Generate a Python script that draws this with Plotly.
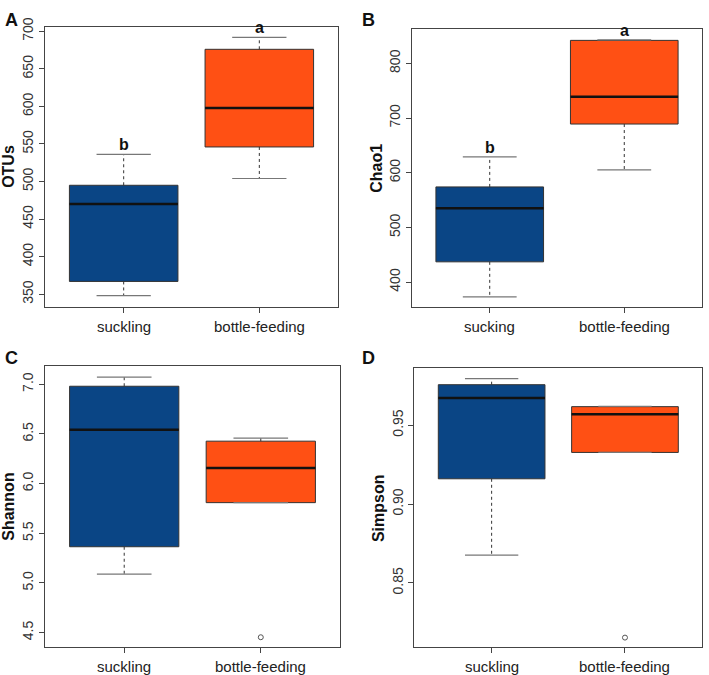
import plotly.graph_objects as go

# ---------------- data ----------------
panel_letters = ["A", "B", "C", "D"]
y_titles = ["OTUs", "Chao1", "Shannon", "Simpson"]
groups_ac = ["suckling", "bottle-feeding"]
groups_b = ["sucking", "bottle-feeding"]
groups_d = ["suckling", "bottle-feeding"]

# per panel: [suckling, bottle-feeding]
otus_lower = [348, 504]
otus_q1 = [367, 546]
otus_median = [470, 598]
otus_q3 = [495, 676]
otus_upper = [536, 692]
otus_sig = ["b", "a"]

chao_lower = [373, 605]
chao_q1 = [437, 689]
chao_median = [535, 739]
chao_q3 = [574, 842]
chao_upper = [629, 843]
chao_sig = ["b", "a"]

shan_lower = [5.089, 5.808]
shan_q1 = [5.364, 5.808]
shan_median = [6.543, 6.156]
shan_q3 = [6.980, 6.427]
shan_upper = [7.072, 6.457]
shan_outliers = [[], [4.453]]

simp_lower = [0.8677, 0.9327]
simp_q1 = [0.9160, 0.9327]
simp_median = [0.9671, 0.9569]
simp_q3 = [0.9756, 0.9617]
simp_upper = [0.9794, 0.9619]
simp_outliers = [[], [0.8154]]

otus_ticks = [350, 400, 450, 500, 550, 600, 650, 700]
chao_ticks = [400, 500, 600, 700, 800]
shan_ticks = [4.5, 5.0, 5.5, 6.0, 6.5, 7.0]
simp_ticks = [0.85, 0.90, 0.95]

colors = ["#0A4585", "#FF5014"]

# ---------------- layout geometry (pixels) ----------------
W, H = 709, 675
FONT = "Liberation Sans, Arial, Helvetica, sans-serif"

panels = [
    dict(lower=otus_lower, q1=otus_q1, med=otus_median, q3=otus_q3, upper=otus_upper,
         out=[[], []], sig=otus_sig, names=groups_ac, ticks=otus_ticks, fmt="{:.0f}",
         yr=[333, 706], px=(45, 338, 18, 302)),
    dict(lower=chao_lower, q1=chao_q1, med=chao_median, q3=chao_q3, upper=chao_upper,
         out=[[], []], sig=chao_sig, names=groups_b, ticks=chao_ticks, fmt="{:.0f}",
         yr=[355, 862], px=(411.7, 702.3, 20.7, 301.7)),
    dict(lower=shan_lower, q1=shan_q1, med=shan_median, q3=shan_q3, upper=shan_upper,
         out=shan_outliers, sig=None, names=groups_ac, ticks=shan_ticks, fmt="{:.1f}",
         yr=[4.354, 7.179], px=(45, 340, 362.3, 646.7)),
    dict(lower=simp_lower, q1=simp_q1, med=simp_median, q3=simp_q3, upper=simp_upper,
         out=simp_outliers, sig=None, names=groups_d, ticks=simp_ticks, fmt="{:.2f}",
         yr=[0.8094, 0.9859], px=(414.3, 702.3, 364.3, 646.7)),
]

fig = go.Figure()
annotations = []
positions = [1, 2]
boxw = 0.8
capw = 0.2

for i, p in enumerate(panels):
    n = i + 1
    xa = "x" if n == 1 else f"x{n}"
    ya = "y" if n == 1 else f"y{n}"
    x0, x1, y0, y1 = p["px"]
    for j, pos in enumerate(positions):
        # box
        fig.add_trace(go.Box(
            x=[pos], q1=[p["q1"][j]], median=[p["med"][j]], q3=[p["q3"][j]],
            lowerfence=[p["q1"][j]], upperfence=[p["q3"][j]],
            width=boxw, fillcolor=colors[j], line=dict(color="#333333", width=1),
            whiskerwidth=0, boxpoints=False, hoverinfo="skip", showlegend=False,
            xaxis=xa, yaxis=ya,
        ))
        # median line (thick)
        fig.add_trace(go.Scatter(
            x=[pos - boxw / 2, pos + boxw / 2], y=[p["med"][j]] * 2, mode="lines",
            line=dict(color="#111111", width=2.5), showlegend=False, hoverinfo="skip",
            xaxis=xa, yaxis=ya,
        ))
        # whiskers (dotted)
        for a, b in ((p["q3"][j], p["upper"][j]), (p["q1"][j], p["lower"][j])):
            if b != a:
                fig.add_trace(go.Scatter(
                    x=[pos, pos], y=[a, b], mode="lines",
                    line=dict(color="#333333", width=1, dash="dot"),
                    showlegend=False, hoverinfo="skip", xaxis=xa, yaxis=ya,
                ))
        # caps
        for v in (p["upper"][j], p["lower"][j]):
            fig.add_trace(go.Scatter(
                x=[pos - capw, pos + capw], y=[v, v], mode="lines",
                line=dict(color="#777777", width=1.2),
                showlegend=False, hoverinfo="skip", xaxis=xa, yaxis=ya,
            ))
        # outliers
        if p["out"][j]:
            fig.add_trace(go.Scatter(
                x=[pos] * len(p["out"][j]), y=p["out"][j], mode="markers",
                marker=dict(symbol="circle-open", size=5, color="#555555",
                            line=dict(width=1)),
                showlegend=False, hoverinfo="skip", xaxis=xa, yaxis=ya,
            ))
        # significance letters
        if p["sig"]:
            annotations.append(dict(
                x=pos, y=p["upper"][j], xref=xa, yref=ya, text=f"<b>{p['sig'][j]}</b>",
                showarrow=False, yanchor="bottom", yshift=-1,
                font=dict(family=FONT, size=16, color="#111111"),
            ))
        # category (x tick) label
        annotations.append(dict(
            x=pos, y=1 - (y1 + 20) / H, xref=xa, yref="paper", text=p["names"][j],
            showarrow=False, xanchor="center", yanchor="middle",
            font=dict(family=FONT, size=15, color="#222222"),
        ))

    xdom = [x0 / W, x1 / W]
    ydom = [1 - y1 / H, 1 - y0 / H]
    axis_common = dict(showline=True, linecolor="#444444", linewidth=1, mirror=True,
                       showgrid=False, zeroline=False, ticks="outside", ticklen=5,
                       tickcolor="#444444")
    fig.layout[f"xaxis{'' if n == 1 else n}"] = dict(
        domain=xdom, anchor=ya, range=[0.42, 2.58], tickvals=positions,
        showticklabels=False, **axis_common)
    fig.layout[f"yaxis{'' if n == 1 else n}"] = dict(
        domain=ydom, anchor=xa, range=p["yr"], tickvals=p["ticks"],
        ticktext=[p["fmt"].format(t) for t in p["ticks"]], tickangle=-90,
        tickfont=dict(family=FONT, size=14, color="#333333"), **axis_common)

    # y title
    annotations.append(dict(
        x=(x0 - 36) / W, y=1 - (y0 + y1) / 2 / H, xref="paper", yref="paper",
        text=f"<b>{y_titles[i]}</b>", textangle=-90, showarrow=False,
        xanchor="center", yanchor="middle",
        font=dict(family=FONT, size=16, color="#111111"),
    ))
    # panel letter
    lx = 11 if i % 2 == 0 else 368
    ly = 11 if i < 2 else 354
    annotations.append(dict(
        x=lx / W, y=1 - ly / H, xref="paper", yref="paper",
        text=f"<b>{panel_letters[i]}</b>", showarrow=False,
        xanchor="center", yanchor="middle",
        font=dict(family=FONT, size=18, color="#111111"),
    ))

fig.update_layout(
    width=W, height=H, margin=dict(l=0, r=0, t=0, b=0),
    paper_bgcolor="white", plot_bgcolor="white",
    annotations=annotations, showlegend=False,
)

fig.write_html(
    "out.html",
    config={"responsive": False, "displayModeBar": False},
    post_script="document.body.style.margin='0';document.body.style.overflow='hidden';",
)
